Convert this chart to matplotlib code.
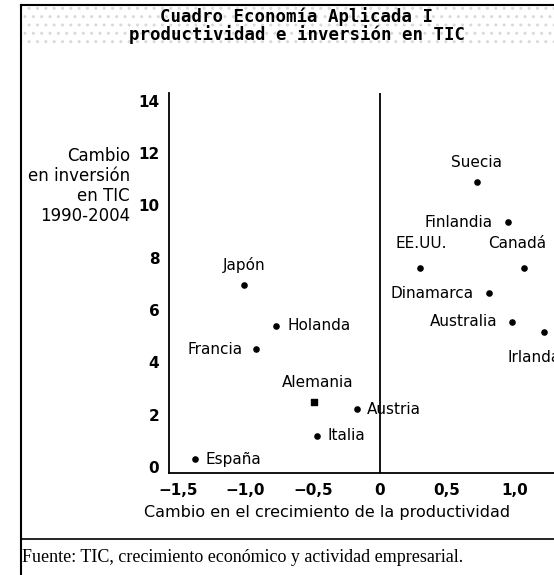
import matplotlib
matplotlib.use('Agg')
import matplotlib.pyplot as plt
from matplotlib.lines import Line2D
from matplotlib.patches import Rectangle

# datos
paises = ['España', 'Italia', 'Alemania', 'Austria', 'Francia', 'Holanda', 'Japón',
          'Suecia', 'Finlandia', 'EE.UU.', 'Canadá', 'Dinamarca', 'Australia', 'Irlanda']
productividad = [-1.38, -0.47, -0.49, -0.17, -0.92, -0.77, -1.01,
                 0.72, 0.95, 0.30, 1.07, 0.81, 0.98, 1.22]
inversion = [0.3, 1.2, 2.5, 2.2, 4.5, 5.4, 6.95,
             10.9, 9.35, 7.6, 7.6, 6.65, 5.55, 5.15]

x_ticks = [-1.5, -1.0, -0.5, 0, 0.5, 1.0]
x_labels = ['\u22121,5', '\u22121,0', '\u22120,5', '0', '0,5', '1,0']
y_ticks = [0, 2, 4, 6, 8, 10, 12, 14]

# posicion de cada etiqueta respecto a su punto (px), alineacion horizontal
etiquetas = {
    'España': (11, 0, 'left'), 'Italia': (11, 0, 'left'), 'Alemania': (4, 19, 'center'),
    'Austria': (10, 0, 'left'), 'Francia': (-14, 0, 'right'), 'Holanda': (11, 0, 'left'),
    'Japón': (0, 20, 'center'), 'Suecia': (0, 19, 'center'), 'Finlandia': (-15, 0, 'right'),
    'EE.UU.': (1, 25, 'center'), 'Canadá': (-6, 25, 'center'), 'Dinamarca': (-15, 0, 'right'),
    'Australia': (-14, 0, 'right'), 'Irlanda': (-36, -25, 'left'),
}

W, H = 554, 575
fig = plt.figure(figsize=(W / 100, H / 100), dpi=100)

def fx(px):
    return px / W

def fy(py):
    return 1 - py / H

# marco y fondo punteado del titulo
fig.add_artist(Rectangle((fx(22), fy(45)), 1 - fx(22), fy(7) - fy(45), transform=fig.transFigure,
                         facecolor='none', edgecolor='#dadada', hatch='..', lw=0))
fig.add_artist(Line2D([fx(21), fx(21)], [0, fy(5)], transform=fig.transFigure, color='black', lw=1.5))
fig.add_artist(Line2D([fx(21), 1], [fy(5), fy(5)], transform=fig.transFigure, color='black', lw=1.5))
fig.add_artist(Line2D([fx(21), 1], [fy(539), fy(539)], transform=fig.transFigure, color='black', lw=1.2))

fig.text(fx(297), fy(17), 'Cuadro Economía Aplicada I', ha='center', va='center',
         family='DejaVu Sans Mono', weight='bold', fontsize=12.5)
fig.text(fx(297), fy(35), 'productividad e inversión en TIC', ha='center', va='center',
         family='DejaVu Sans Mono', weight='bold', fontsize=12.5)

ax = fig.add_axes([fx(169), fy(473), fx(568) - fx(169), fy(93) - fy(473)])
ax.set_xlim(-1.57, 1.4)
ax.set_ylim(-0.23, 14.3)

for p, xv, yv in zip(paises, productividad, inversion):
    mk = 's' if p == 'Alemania' else 'o'
    ax.scatter([xv], [yv], s=14 if mk == 'o' else 16, marker=mk, color='black', zorder=3)
    dx, dy, ha = etiquetas[p]
    ax.annotate(p, (xv, yv), xytext=(dx * 0.72, dy * 0.72), textcoords='offset points',
                ha=ha, va='center', fontsize=11, family='DejaVu Sans', annotation_clip=False)

ax.axvline(0, color='black', lw=1.3)

for s in ['top', 'right']:
    ax.spines[s].set_visible(False)
ax.spines['left'].set_linewidth(1.3)
ax.spines['bottom'].set_linewidth(1.3)

ax.set_xticks(x_ticks)
ax.set_xticklabels(x_labels, fontsize=11, weight='bold')
ax.set_yticks(y_ticks)
ax.set_yticklabels([str(v) for v in y_ticks], fontsize=11, weight='bold')
ax.tick_params(length=0, pad=7)

fig.text(fx(327), fy(512), 'Cambio en el crecimiento de la productividad', ha='center', va='center',
         fontsize=11.5, family='DejaVu Sans')
fig.text(fx(130), fy(186), 'Cambio\nen inversión\nen TIC\n1990-2004', ha='right', va='center',
         fontsize=12, family='DejaVu Sans', linespacing=1.15)

fig.text(fx(22), fy(557), 'Fuente: TIC, crecimiento económico y actividad empresarial.',
         ha='left', va='center', fontsize=13, family='Liberation Serif')

fig.savefig('out.png', dpi=100)
